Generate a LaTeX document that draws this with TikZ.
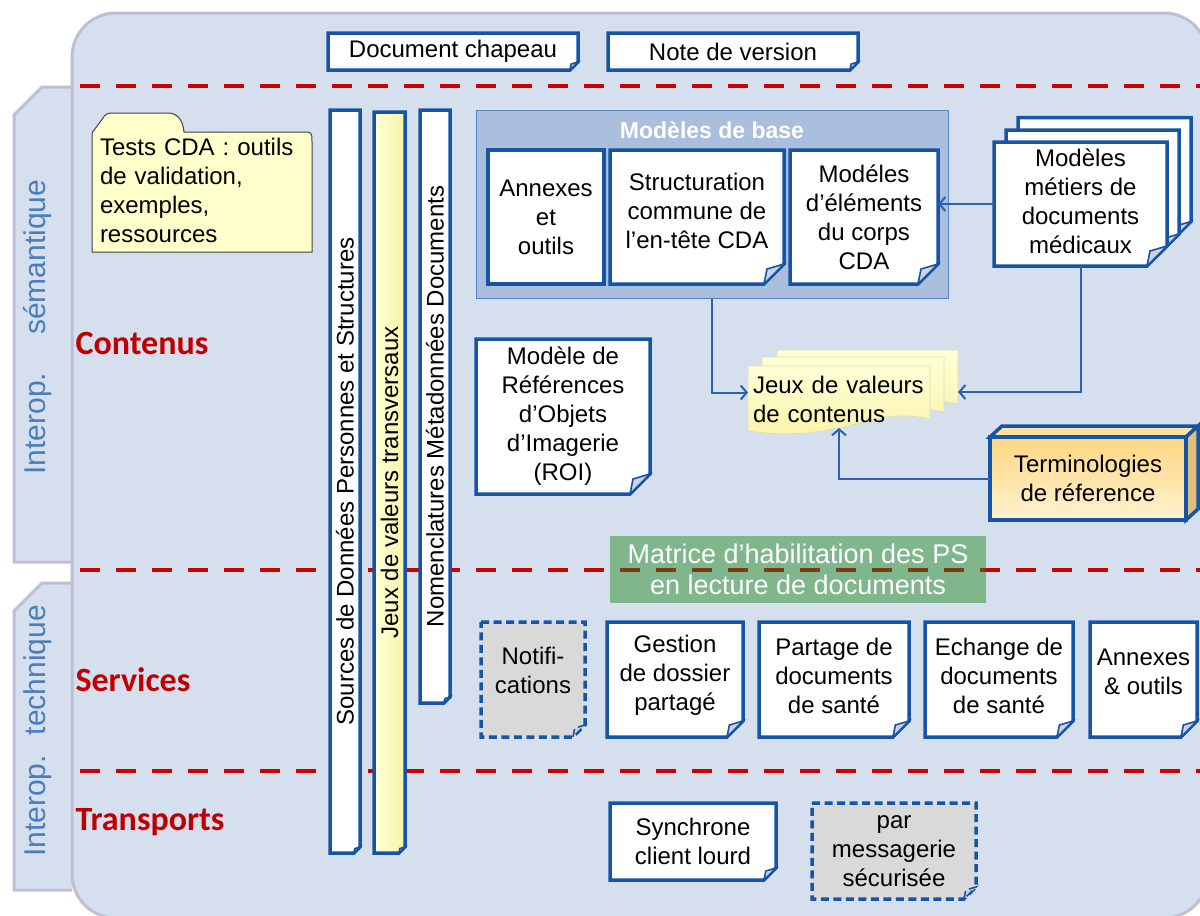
\documentclass[tikz,border=0pt]{standalone}
\usepackage{fontspec}
\setmainfont{Liberation Sans}
\newfontfamily\labelfont{Carlito}
\usepackage{graphicx}
\usetikzlibrary{positioning, arrows.meta, calc}

\definecolor{panelfill}{RGB}{214,223,238}
\definecolor{panelline}{RGB}{190,190,214}
\definecolor{docblue}{RGB}{22,84,166}
\definecolor{arrowblue}{RGB}{40,98,176}
\definecolor{basefill}{RGB}{170,191,222}
\definecolor{baseline}{RGB}{86,134,200}
\definecolor{sepred}{RGB}{204,0,0}
\definecolor{labelred}{RGB}{192,0,0}
\definecolor{tabblue}{RGB}{74,126,187}
\definecolor{notefill}{RGB}{255,255,204}
\definecolor{notetop}{RGB}{255,255,214}
\definecolor{notebot}{RGB}{250,243,172}
\definecolor{noteline}{RGB}{222,222,178}
\definecolor{greybox}{RGB}{217,217,217}
\definecolor{foldgrey}{RGB}{204,212,226}
\definecolor{matgreen}{RGB}{128,182,140}
\definecolor{dashbrown}{RGB}{120,60,20}
\definecolor{termtop}{RGB}{255,214,130}
\definecolor{termbot}{RGB}{255,242,208}
\definecolor{termlid}{RGB}{255,226,160}
\definecolor{termside}{RGB}{222,190,120}
\definecolor{baryellowA}{RGB}{255,255,215}
\definecolor{baryellowB}{RGB}{246,244,170}

\pgfdeclarelayer{back}
\pgfdeclarelayer{frames}
\pgfsetlayers{back,frames,main}

\newcommand\bodysize{\fontsize{24}{29}\selectfont}

% page with a folded corner, drawn behind the node text
\newcommand\docframe[3][]{%
  \begin{pgfonlayer}{frames}
    \draw[docline, fill=white, #1] (#2.north west) -- (#2.north east)
      -- ([yshift=#3pt]#2.south east) -- ([xshift=-#3pt]#2.south east)
      -- (#2.south west) -- cycle;
    \draw[docline, #1, fill=foldgrey, line width=1.6pt] ([xshift=-#3pt]#2.south east)
      -- ([shift={(-0.85*#3pt,0.75*#3pt)}]#2.south east)
      -- ([yshift=#3pt]#2.south east) -- cycle;
  \end{pgfonlayer}}

% yellow note with a wavy bottom
\newcommand\noteframe[1]{%
  \begin{pgfonlayer}{frames}
    \draw[notebox] (#1.north west) -- (#1.north east) -- ([yshift=14pt]#1.south east)
      .. controls ([shift={(-40pt,23pt)}]#1.south east) and ([shift={(21pt,9pt)}]#1.south) .. ([yshift=5pt]#1.south)
      .. controls ([shift={(-29pt,-1pt)}]#1.south) and ([shift={(32pt,-3pt)}]#1.south west) .. ([yshift=2pt]#1.south west)
      -- cycle;
  \end{pgfonlayer}}

\begin{document}
\begin{tikzpicture}[
    x=1pt, y=-1pt,
    docbox/.style={rectangle, inner sep=0pt, outer sep=0pt, align=center, text=black, font=\bodysize},
    plainbox/.style={docbox, draw=docblue, line width=3.5pt, fill=white},
    docline/.style={draw=docblue, line width=3.5pt},
    dashbox/.style={dash pattern=on 8pt off 4.5pt, fill=greybox},
    notebox/.style={draw=noteline, line width=0.8pt, top color=notetop, bottom color=notebot},
    sepline/.style={draw=sepred, line width=4pt, dash pattern=on 20pt off 16pt},
    seclabel/.style={anchor=west, text=labelred, font=\labelfont\bfseries\fontsize{34}{40}\selectfont},
    tablabel/.style={rotate=90, text=tabblue, font=\fontsize{30}{36}\selectfont},
    arr/.style={draw=arrowblue, line width=2pt, -{Straight Barb[length=6pt, width=14pt]}}
]
    \useasboundingbox (0,0) rectangle (1200,916);

    % panel, tabs and separators
    \begin{pgfonlayer}{back}
        \draw[fill=panelfill, draw=panelline, line width=3pt] (72,87) -- (42,87) -- (14,115) -- (14,562) -- (72,562);
        \draw[fill=panelfill, draw=panelline, line width=3pt] (72,583) -- (42,583) -- (14,611) -- (14,890) -- (72,890);
        \draw[fill=panelfill, draw=panelline, line width=3pt, rounded corners=44pt] (72,13) rectangle (1208,918);
        \foreach \y in {86,570,771}
            \draw[sepline] (80,\y) -- (1200,\y);
        \node[draw=baseline, line width=1pt, fill=basefill, minimum width=472pt, minimum height=188pt] (base) at (712,204) {};
    \end{pgfonlayer}

    \node[tablabel] (semantique) at (38,327) {Interop.\hspace{38pt}sémantique};
    \node[tablabel] (technique) at (38,731) {Interop.\hspace{20pt}technique};

    \node[seclabel] (contenus) at (72,343) {Contenus};
    \node[seclabel] (services) at (72,680) {Services};
    \node[seclabel] (transports) at (72,822) {Transports};

    % header documents
    \node[docbox, minimum width=250pt, minimum height=37pt] (chapeau) at (453,51.5) {Document chapeau};
    \node[docbox, minimum width=250pt, minimum height=37pt] (version) at (733,51.5) {Note de version};
    \docframe{chapeau}{8}
    \docframe{version}{8}

    % tests folder
    \node[docbox, minimum width=220pt, text width=204pt, align=left, minimum height=119pt] (tests) at (202,190.5)
        {Tests CDA : outils\\de validation,\\exemples,\\ressources};
    \begin{pgfonlayer}{frames}
        \draw[draw=black!75, line width=1pt, fill=notefill] ([yshift=-2pt]tests.south west) -- ([yshift=-2pt]tests.north west)
            -- ([shift={(11pt,13pt)}]tests.north west)
            .. controls ([shift={(13pt,17pt)}]tests.north west) and ([shift={(16pt,18pt)}]tests.north west) .. ([shift={(21pt,18pt)}]tests.north west)
            -- ([shift={(76pt,18pt)}]tests.north west)
            .. controls ([shift={(86pt,18pt)}]tests.north west) and ([shift={(91pt,10pt)}]tests.north west) .. ([shift={(92pt,-1pt)}]tests.north west)
            -- ([shift={(-10pt,-1pt)}]tests.north east) .. controls ([yshift=-1pt]tests.north east) .. ([yshift=-11pt]tests.north east)
            -- ([yshift=-2pt]tests.south east) -- cycle;
    \end{pgfonlayer}

    % transversal bars
    \node[docbox, minimum width=30pt, minimum height=743pt] (sources) at (345,481.5)
        {\rotatebox{90}{Sources de Données Personnes et Structures}};
    \node[docbox, minimum width=31pt, minimum height=741pt] (jeuxtrans) at (389.5,482.5)
        {\rotatebox{90}{Jeux de valeurs transversaux}};
    \node[docbox, minimum width=30pt, minimum height=593pt] (nomencl) at (435,406.5)
        {\rotatebox{90}{Nomenclatures Métadonnées Documents}};
    \docframe{sources}{6}
    \docframe[left color=baryellowA, right color=baryellowB]{jeuxtrans}{6}
    \docframe{nomencl}{6}

    % base models
    \node[text=white, font=\bfseries\fontsize{23}{27}\selectfont] (basetitle) at (712,130) {Modèles de base};
    \node[plainbox, minimum width=116pt, minimum height=134pt] (annexes) at (546,217) {Annexes\\et\\outils};
    \node[docbox, minimum width=174pt, minimum height=134pt] (struct) at (697,217) {Structuration\\commune de\\l’en-tête CDA\\[-16pt]};
    \node[docbox, minimum width=148pt, minimum height=134pt] (elements) at (864,217) {Modéles\\d’éléments\\du corps\\CDA};
    \docframe{struct}{20}
    \docframe{elements}{20}

    % business models
    \node[docbox, minimum width=173pt, minimum height=124pt] (metiers3) at (1104.5,179.5) {};
    \node[docbox, minimum width=173pt, minimum height=124pt] (metiers2) at (1092.5,192) {};
    \node[docbox, minimum width=173pt, minimum height=124pt] (metiers) at (1080.5,204) {Modèles\\métiers de\\documents\\médicaux\\[-23pt]};
    \docframe{metiers3}{20}
    \docframe{metiers2}{20}
    \docframe{metiers}{20}

    \node[docbox, minimum width=174pt, minimum height=155pt] (roi) at (563,416.5)
        {Modèle de\\Références\\d’Objets\\d’Imagerie\\(ROI)};
    \docframe{roi}{20}

    % value sets
    \node[docbox, minimum width=181pt, minimum height=68pt] (jeux3) at (867.5,384) {};
    \node[docbox, minimum width=182pt, minimum height=69pt] (jeux2) at (853,391.5) {};
    \node[docbox, minimum width=182pt, minimum height=67pt, text width=172pt, align=left] (jeux) at (839,399.5)
        {Jeux de valeurs\\de contenus\\[14pt]};
    \noteframe{jeux3}
    \noteframe{jeux2}
    \noteframe{jeux}

    % terminologies
    \node[docbox, minimum width=196pt, minimum height=83pt] (termino) at (1088,478.5) {Terminologies\\de réference};
    \begin{pgfonlayer}{frames}
        \draw[docline, fill=termlid] (termino.north west) -- ([shift={(12pt,11pt)}]termino.north west)
            -- ([shift={(12pt,11pt)}]termino.north east) -- (termino.north east) -- cycle;
        \draw[docline, fill=termside] (termino.north east) -- ([shift={(12pt,11pt)}]termino.north east)
            -- ([shift={(12pt,11pt)}]termino.south east) -- (termino.south east) -- cycle;
        \draw[docline, top color=termtop, bottom color=termbot] (termino.south west) rectangle (termino.north east);
    \end{pgfonlayer}

    \draw[arr] (metiers.west) -- (metiers.west -| elements.east);
    \draw[arr] (base.south) |- ([yshift=7pt]jeux.west);
    \draw[arr] (metiers.south) |- ([yshift=-8pt]jeux3.east);
    \draw[arr] (termino.west) -| ([yshift=5pt]jeux.south);

    % access matrix
    \node[docbox, text=white, font=\fontsize{27}{31}\selectfont, minimum width=376pt, minimum height=67pt] (matrice) at (798,569.5)
        {Matrice d’habilitation des PS\\en lecture de documents};
    \begin{pgfonlayer}{frames}
        \fill[matgreen] (matrice.south west) rectangle (matrice.north east);
        \begin{scope}
            \clip (matrice.south west) rectangle (matrice.north east);
            \draw[sepline, draw=dashbrown] (80,570) -- (1200,570);
        \end{scope}
    \end{pgfonlayer}

    % services
    \node[docbox, minimum width=104pt, minimum height=115pt] (notif) at (533,679.5) {Notifi-\\cations\\[-11pt]};
    \node[docbox, minimum width=136pt, minimum height=115pt] (gestion) at (675,679.5) {Gestion\\de dossier\\partagé\\[-15pt]};
    \node[docbox, minimum width=150pt, minimum height=115pt] (partage) at (834,679.5) {Partage de\\documents\\de santé\\[-21pt]};
    \node[docbox, minimum width=148pt, minimum height=115pt] (echange) at (999,679.5) {Echange de\\documents\\de santé\\[-21pt]};
    \node[docbox, minimum width=107pt, minimum height=115pt] (annexes2) at (1143.5,679.5) {Annexes\\\& outils\\[-14pt]};
    \docframe[dashbox]{notif}{12}
    \docframe{gestion}{16}
    \docframe{partage}{16}
    \docframe{echange}{16}
    \docframe{annexes2}{16}

    % transports
    \node[docbox, minimum width=166pt, minimum height=77pt] (synchrone) at (693,841.5) {Synchrone\\client lourd};
    \node[docbox, minimum width=164pt, minimum height=96pt] (messagerie) at (894,851) {par\\messagerie\\sécurisée};
    \docframe{synchrone}{12}
    \docframe[dashbox]{messagerie}{12}
\end{tikzpicture}
\end{document}
